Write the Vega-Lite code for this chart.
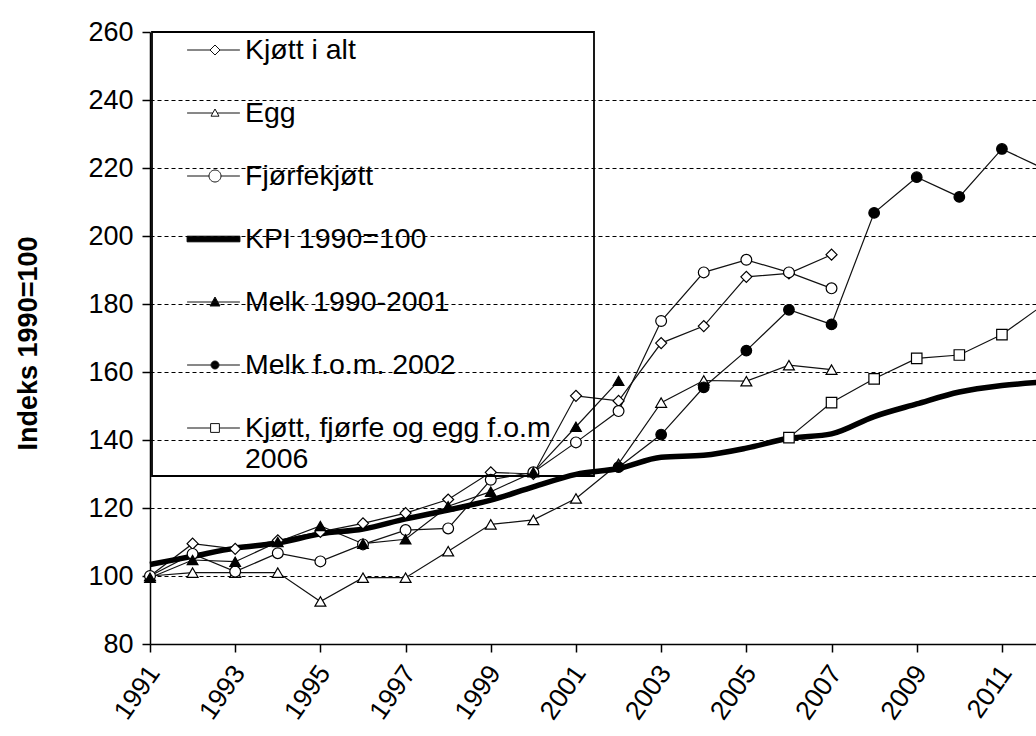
{
  "$schema": "https://vega.github.io/schema/vega-lite/v6.json",
  "width": 886,
  "height": 612,
  "autosize": "none",
  "padding": {"left": 150, "top": 32, "right": 0, "bottom": 92},
  "background": "white",
  "config": {
    "view": {"stroke": null},
    "font": "Liberation Sans",
    "axis": {"labelFont": "Liberation Sans", "titleFont": "Liberation Sans", "labelColor": "black", "titleColor": "black", "domainColor": "black", "tickColor": "black", "domainWidth": 1.5, "tickWidth": 1.5}
  },
  "data": {"values": [
    {"series": "Kjøtt i alt", "year": 1991, "value": 100},
    {"series": "Kjøtt i alt", "year": 1992, "value": 109.5},
    {"series": "Kjøtt i alt", "year": 1993, "value": 108},
    {"series": "Kjøtt i alt", "year": 1994, "value": 110.5},
    {"series": "Kjøtt i alt", "year": 1995, "value": 113},
    {"series": "Kjøtt i alt", "year": 1996, "value": 115.5},
    {"series": "Kjøtt i alt", "year": 1997, "value": 118.5},
    {"series": "Kjøtt i alt", "year": 1998, "value": 122.5},
    {"series": "Kjøtt i alt", "year": 1999, "value": 130.5},
    {"series": "Kjøtt i alt", "year": 2000, "value": 130},
    {"series": "Kjøtt i alt", "year": 2001, "value": 153},
    {"series": "Kjøtt i alt", "year": 2002, "value": 151.5},
    {"series": "Kjøtt i alt", "year": 2003, "value": 168.5},
    {"series": "Kjøtt i alt", "year": 2004, "value": 173.5},
    {"series": "Kjøtt i alt", "year": 2005, "value": 188},
    {"series": "Kjøtt i alt", "year": 2006, "value": 189},
    {"series": "Kjøtt i alt", "year": 2007, "value": 194.5},
    {"series": "Egg", "year": 1991, "value": 100},
    {"series": "Egg", "year": 1992, "value": 101},
    {"series": "Egg", "year": 1993, "value": 101},
    {"series": "Egg", "year": 1994, "value": 101},
    {"series": "Egg", "year": 1995, "value": 92.5},
    {"series": "Egg", "year": 1996, "value": 99.5},
    {"series": "Egg", "year": 1997, "value": 99.5},
    {"series": "Egg", "year": 1998, "value": 107.3},
    {"series": "Egg", "year": 1999, "value": 115.2},
    {"series": "Egg", "year": 2000, "value": 116.5},
    {"series": "Egg", "year": 2001, "value": 122.8},
    {"series": "Egg", "year": 2002, "value": 133},
    {"series": "Egg", "year": 2003, "value": 151},
    {"series": "Egg", "year": 2004, "value": 157.5},
    {"series": "Egg", "year": 2005, "value": 157.3},
    {"series": "Egg", "year": 2006, "value": 162},
    {"series": "Egg", "year": 2007, "value": 160.7},
    {"series": "Fjørfekjøtt", "year": 1991, "value": 100},
    {"series": "Fjørfekjøtt", "year": 1992, "value": 106.5},
    {"series": "Fjørfekjøtt", "year": 1993, "value": 101.3},
    {"series": "Fjørfekjøtt", "year": 1994, "value": 106.7},
    {"series": "Fjørfekjøtt", "year": 1995, "value": 104.3},
    {"series": "Fjørfekjøtt", "year": 1996, "value": 109.3},
    {"series": "Fjørfekjøtt", "year": 1997, "value": 113.5},
    {"series": "Fjørfekjøtt", "year": 1998, "value": 114},
    {"series": "Fjørfekjøtt", "year": 1999, "value": 128.3},
    {"series": "Fjørfekjøtt", "year": 2000, "value": 130.5},
    {"series": "Fjørfekjøtt", "year": 2001, "value": 139.3},
    {"series": "Fjørfekjøtt", "year": 2002, "value": 148.5},
    {"series": "Fjørfekjøtt", "year": 2003, "value": 175},
    {"series": "Fjørfekjøtt", "year": 2004, "value": 189.3},
    {"series": "Fjørfekjøtt", "year": 2005, "value": 193},
    {"series": "Fjørfekjøtt", "year": 2006, "value": 189.3},
    {"series": "Fjørfekjøtt", "year": 2007, "value": 184.6},
    {"series": "KPI 1990=100", "year": 1991, "value": 103.4},
    {"series": "KPI 1990=100", "year": 1992, "value": 105.8},
    {"series": "KPI 1990=100", "year": 1993, "value": 108.2},
    {"series": "KPI 1990=100", "year": 1994, "value": 109.7},
    {"series": "KPI 1990=100", "year": 1995, "value": 112.4},
    {"series": "KPI 1990=100", "year": 1996, "value": 113.8},
    {"series": "KPI 1990=100", "year": 1997, "value": 116.8},
    {"series": "KPI 1990=100", "year": 1998, "value": 119.4},
    {"series": "KPI 1990=100", "year": 1999, "value": 122.3},
    {"series": "KPI 1990=100", "year": 2000, "value": 126.2},
    {"series": "KPI 1990=100", "year": 2001, "value": 129.9},
    {"series": "KPI 1990=100", "year": 2002, "value": 131.6},
    {"series": "KPI 1990=100", "year": 2003, "value": 134.9},
    {"series": "KPI 1990=100", "year": 2004, "value": 135.5},
    {"series": "KPI 1990=100", "year": 2005, "value": 137.6},
    {"series": "KPI 1990=100", "year": 2006, "value": 140.5},
    {"series": "KPI 1990=100", "year": 2007, "value": 141.8},
    {"series": "KPI 1990=100", "year": 2008, "value": 146.9},
    {"series": "KPI 1990=100", "year": 2009, "value": 150.6},
    {"series": "KPI 1990=100", "year": 2010, "value": 154.1},
    {"series": "KPI 1990=100", "year": 2011, "value": 156.0},
    {"series": "KPI 1990=100", "year": 2012, "value": 157.1},
    {"series": "Melk 1990-2001", "year": 1991, "value": 99.5},
    {"series": "Melk 1990-2001", "year": 1992, "value": 104.7},
    {"series": "Melk 1990-2001", "year": 1993, "value": 104.2},
    {"series": "Melk 1990-2001", "year": 1994, "value": 110},
    {"series": "Melk 1990-2001", "year": 1995, "value": 114.7},
    {"series": "Melk 1990-2001", "year": 1996, "value": 109.5},
    {"series": "Melk 1990-2001", "year": 1997, "value": 110.8},
    {"series": "Melk 1990-2001", "year": 1998, "value": 120.5},
    {"series": "Melk 1990-2001", "year": 1999, "value": 124.8},
    {"series": "Melk 1990-2001", "year": 2000, "value": 130.5},
    {"series": "Melk 1990-2001", "year": 2001, "value": 143.9},
    {"series": "Melk 1990-2001", "year": 2002, "value": 157.4},
    {"series": "Melk f.o.m. 2002", "year": 2002, "value": 132},
    {"series": "Melk f.o.m. 2002", "year": 2003, "value": 141.6},
    {"series": "Melk f.o.m. 2002", "year": 2004, "value": 155.5},
    {"series": "Melk f.o.m. 2002", "year": 2005, "value": 166.3},
    {"series": "Melk f.o.m. 2002", "year": 2006, "value": 178.3},
    {"series": "Melk f.o.m. 2002", "year": 2007, "value": 174},
    {"series": "Melk f.o.m. 2002", "year": 2008, "value": 206.8},
    {"series": "Melk f.o.m. 2002", "year": 2009, "value": 217.3},
    {"series": "Melk f.o.m. 2002", "year": 2010, "value": 211.5},
    {"series": "Melk f.o.m. 2002", "year": 2011, "value": 225.6},
    {"series": "Melk f.o.m. 2002", "year": 2012, "value": 219.7},
    {"series": "Kjøtt, fjørfe og egg f.o.m. 2006", "year": 2006, "value": 140.7},
    {"series": "Kjøtt, fjørfe og egg f.o.m. 2006", "year": 2007, "value": 151},
    {"series": "Kjøtt, fjørfe og egg f.o.m. 2006", "year": 2008, "value": 158},
    {"series": "Kjøtt, fjørfe og egg f.o.m. 2006", "year": 2009, "value": 164},
    {"series": "Kjøtt, fjørfe og egg f.o.m. 2006", "year": 2010, "value": 165},
    {"series": "Kjøtt, fjørfe og egg f.o.m. 2006", "year": 2011, "value": 171},
    {"series": "Kjøtt, fjørfe og egg f.o.m. 2006", "year": 2012, "value": 180}
  ]},
  "encoding": {
    "x": {"field": "year", "type": "quantitative",
      "scale": {"domain": [1991, 2011.8], "nice": false, "zero": false},
      "axis": {"values": [1991, 1993, 1995, 1997, 1999, 2001, 2003, 2005, 2007, 2009, 2011], "format": "d", "labelAngle": -55, "labelFontSize": 26.5, "tickSize": 8, "labelPadding": 16, "labelOffset": 4, "title": null, "grid": false}},
    "y": {"field": "value", "type": "quantitative",
      "scale": {"domain": [80, 260], "nice": false, "zero": false},
      "axis": {"values": [80, 100, 120, 140, 160, 180, 200, 220, 240, 260], "labelFontSize": 27, "tickSize": 8, "labelPadding": 9,
        "grid": true, "gridColor": "black", "gridDash": [4, 3], "gridWidth": 1.2,
        "gridOpacity": {"condition": {"test": "datum.value == 80 || datum.value == 260", "value": 0}, "value": 1},
        "title": "Indeks 1990=100", "titleFontSize": 27, "titleFontWeight": "bold",
        "titleAngle": -90, "titleX": -122, "titleY": 311, "titleAlign": "center", "titleBaseline": "middle"}}
  },
  "layer": [
    {
      "transform": [{"filter": "datum.series !== 'KPI 1990=100'"}],
      "mark": {"type": "line", "strokeWidth": 1.2},
      "encoding": {
        "color": {"field": "series", "type": "nominal",
          "scale": {"domain": ["Kjøtt i alt", "Egg", "Fjørfekjøtt", "KPI 1990=100", "Melk 1990-2001", "Melk f.o.m. 2002", "Kjøtt, fjørfe og egg f.o.m. 2006"],
                    "range": ["#111111", "#111111", "#111111", "black", "#111111", "#111111", "#111111"]},
          "legend": {
            "title": null, "orient": "none", "legendX": 2, "legendY": 0,
            "strokeColor": "black", "padding": 3,
            "labelFont": "Liberation Sans", "labelFontSize": 28.5, "labelColor": "black", "labelOffset": 9, "labelLimit": 700,
            "symbolSize": 6400, "symbolStrokeWidth": 1, "clipHeight": 30, "rowPadding": 33,
            "labelExpr": "datum.label === 'Kjøtt, fjørfe og egg f.o.m. 2006' ? ['Kjøtt, fjørfe og egg f.o.m\u00a0\u00a0\u00a0\u00a0\u00a0\u200b', '2006'] : datum.label",
            "encode": {
              "legend": {"update": {"strokeWidth": {"value": 1.8}}},
              "symbols": {"update": {
              "shape": {"signal": "datum.value === 'Kjøtt i alt' ? 'M-0.21,0H0.3625M0.6125,0H1.11M0.3625,0L0.4875,-0.125L0.6125,0L0.4875,0.125Z' : datum.value === 'Egg' ? 'M-0.21,0H0.432M0.543,0H1.11M0.3875,0.08L0.4875,-0.1L0.5875,0.08Z' : datum.value === 'Fjørfekjøtt' ? 'M-0.21,0H0.3375M0.6375,0H1.11M0.3375,0A0.15,0.15 0 1,1 0.6375,0A0.15,0.15 0 1,1 0.3375,0Z' : datum.value === 'KPI 1990=100' ? 'M-0.21,-0.07H1.11V0.07H-0.21Z' : datum.value === 'Melk 1990-2001' ? 'M-0.21,0H1.11M0.3625,0.1L0.4875,-0.125L0.6125,0.1Z' : datum.value === 'Melk f.o.m. 2002' ? 'M-0.21,0H1.11M0.3875,0A0.1,0.1 0 1,1 0.5875,0A0.1,0.1 0 1,1 0.3875,0Z' : 'M-0.21,0H0.3775M0.5975,0H1.11M0.3775,-0.11H0.5975V0.11H0.3775Z'"},
              "fill": {"signal": "(datum.value === 'KPI 1990=100' || datum.value === 'Melk 1990-2001' || datum.value === 'Melk f.o.m. 2002') ? 'black' : 'white'"},
              "stroke": {"value": "black"},
              "strokeWidth": {"value": 1},
              "size": {"value": 6400},
              "opacity": {"value": 1}
            }}}
          }}
      }
    },
    {
      "transform": [{"filter": "datum.series === 'KPI 1990=100'"}],
      "mark": {"type": "line", "strokeWidth": 5.5, "interpolate": "monotone"},
      "encoding": {"color": {"field": "series", "type": "nominal"}}
    },
    {
      "transform": [{"filter": "datum.series !== 'KPI 1990=100'"}],
      "mark": {"type": "point", "stroke": "black", "strokeWidth": 1.2, "opacity": 1},
      "encoding": {
        "shape": {"field": "series", "type": "nominal", "legend": null,
          "scale": {"domain": ["Kjøtt i alt", "Egg", "Fjørfekjøtt", "Melk 1990-2001", "Melk f.o.m. 2002", "Kjøtt, fjørfe og egg f.o.m. 2006"],
                    "range": ["diamond", "triangle-up", "circle", "triangle-up", "circle", "square"]}},
        "fill": {"field": "series", "type": "nominal", "legend": null,
          "scale": {"domain": ["Kjøtt i alt", "Egg", "Fjørfekjøtt", "Melk 1990-2001", "Melk f.o.m. 2002", "Kjøtt, fjørfe og egg f.o.m. 2006"],
                    "range": ["white", "white", "white", "black", "black", "white"]}},
        "size": {"field": "series", "type": "nominal", "legend": null,
          "scale": {"domain": ["Kjøtt i alt", "Egg", "Fjørfekjøtt", "Melk 1990-2001", "Melk f.o.m. 2002", "Kjøtt, fjørfe og egg f.o.m. 2006"],
                    "range": [121, 110, 190, 110, 100, 100]}}
      }
    }
  ]
}
